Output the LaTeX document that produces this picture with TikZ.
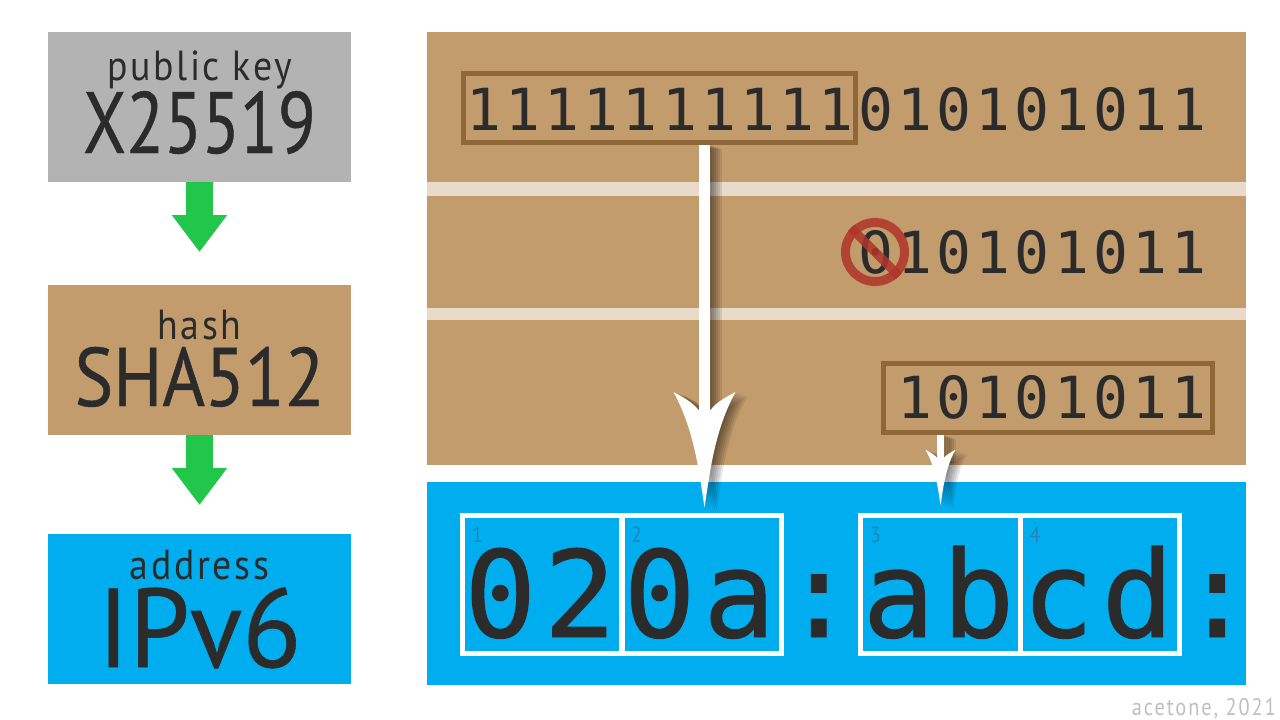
\documentclass[tikz,border=0pt]{standalone}
\usepackage{fontspec}
\usepackage{xcolor}
\usetikzlibrary{arrows.meta}
\newfontfamily\bitsfont[LetterSpace=7.4]{DejaVu Sans Mono}
\newfontfamily\addrfont[LetterSpace=6.2,FakeBold=0.8]{DejaVu Sans Mono}
\newfontfamily\smallfont[FakeStretch=0.9,LetterSpace=6.4]{PT Sans}
\newfontfamily\keyfont[FakeStretch=0.8,FakeBold=0.5]{PT Sans}
\newfontfamily\hashfont[FakeStretch=0.88,FakeBold=0.5]{PT Sans}
\newfontfamily\ipfont[FakeStretch=0.97,FakeBold=0.5]{PT Sans}
\newfontfamily\creditfont[FakeStretch=0.85,LetterSpace=8]{PT Sans}
\definecolor{inkgray}{HTML}{2B2B2B}
\definecolor{keygray}{HTML}{B3B3B3}
\definecolor{hashtan}{HTML}{C39C6D}
\definecolor{selbrown}{HTML}{8F6637}
\definecolor{stripetan}{HTML}{E9DACA}
\definecolor{ipblue}{HTML}{00AEEF}
\definecolor{cellnum}{HTML}{1F86BC}
\definecolor{flowgreen}{HTML}{22C64B}
\definecolor{banred}{HTML}{B0342A}
\tikzset{
    panel/.style={minimum width=303pt,minimum height=150pt,inner sep=0pt,outer sep=0pt},
    band/.style={fill=#1,inner sep=0pt,outer sep=0pt,minimum width=819pt},
    smalltitle/.style={anchor=base,inner sep=0pt,text=inkgray,font={\smallfont\fontsize{42}{42}\selectfont}},
    bigtitle/.style={anchor=base,inner sep=0pt,text=inkgray},
    bits/.style={anchor=base east,inner sep=0pt,text=inkgray,font={\bitsfont\fontsize{58}{58}\selectfont}},
    selbox/.style={draw=selbrown,line width=5pt,inner sep=0pt,outer sep=2.5pt},
    cell/.style={draw=white,line width=5pt,minimum width=159.5pt,minimum height=138pt,inner sep=0pt},
    cellno/.style={anchor=north west,inner sep=0pt,text=cellnum,font={\smallfont\fontsize{22}{22}\selectfont}},
    flow/.style={draw=flowgreen,line width=27pt,-{Triangle[length=37pt,width=53pt,fill=flowgreen]}}
}
% barbed head, tip at the origin
\newcommand{\barbhead}{
    (0,0) .. controls (5,-30) and (9,-75) .. (31,-115)
    .. controls (22,-110) and (12,-105) .. (6,-97)
    -- (-6,-97) .. controls (-12,-105) and (-22,-110) .. (-31,-115)
    .. controls (-9,-75) and (-5,-30) .. (0,0) -- cycle
}
% start, tip, scale of head, width of shaft
\newcommand{\bitarrow}[4]{
    \foreach \d in {2,4,...,12} {
        \draw[black,opacity=.09,line width=#4,shorten >=#3*95pt] ([shift={(\d,\d/3)}]#1) -- ([shift={(\d,\d/3)}]#2);
        \fill[black,opacity=.09,shift={(#2)},shift={(\d,\d/3)},scale=#3] \barbhead;
    }
    \draw[white,line width=#4,shorten >=#3*95pt] (#1) -- (#2);
    \fill[white,shift={(#2)},scale=#3] \barbhead;
}
\begin{document}
\begin{tikzpicture}[x=1pt,y=-1pt]
    \useasboundingbox (0,0) rectangle (1280,720);
    % left column
    \node[panel,fill=keygray] (keybox) at (199.5,107) {};
    \node[panel,fill=hashtan] (hashbox) at (199.5,360) {};
    \node[panel,fill=ipblue] (ipbox) at (199.5,609) {};
    \node[smalltitle] (keylabel) at (199.5,80) {public key};
    \node[bigtitle,font={\keyfont\fontsize{87}{87}\selectfont}] (keyname) at (199.5,153) {X25519};
    \node[smalltitle] (hashlabel) at (199.5,339) {hash};
    \node[bigtitle,font={\hashfont\fontsize{83}{83}\selectfont}] (hashname) at (199.5,406) {SHA512};
    \node[smalltitle] (iplabel) at (199.5,579) {address};
    \node[bigtitle,font={\ipfont\fontsize{112}{112}\selectfont}] (ipname) at (199.5,667) {IPv6};
    \draw[flow,shorten >=33pt] (keybox.south) -- (hashbox.north);
    \draw[flow,shorten >=29pt] (hashbox.south) -- (ipbox.north);
    % right column
    \node[band=hashtan,minimum height=433pt] (bitpanel) at (836.5,248.5) {};
    \node[band=stripetan,minimum height=14pt] (stripea) at (836.5,189) {};
    \node[band=stripetan,minimum height=12pt] (stripeb) at (836.5,314) {};
    \node[band=ipblue,minimum height=203pt] (addrpanel) at (836.5,583.5) {};
    % rows of bits
    \node[bits] (rowa) at (1207,130) {1111111111010101011};
    \node[bits] (rowb) at (1207,273) {010101011};
    \node[bits] (rowc) at (1207,418) {10101011};
    \node[selbox,minimum width=392pt,minimum height=69pt] (sela) at (659,107.5) {};
    \node[selbox,minimum width=329pt,minimum height=69pt] (selc) at (1048,397.5) {};
    % crossed out zero
    \node[circle,draw=banred,line width=9pt,opacity=.85,minimum size=59pt,inner sep=0pt] (ban) at (875,252) {};
    \draw[banred,line width=9pt,opacity=.85] (ban.north west) -- (ban.south east);
    % address and its cells
    \node[anchor=base west,inner sep=0pt,text=inkgray,font={\addrfont\fontsize{120}{120}\selectfont}] (addr) at (464,637) {020a:abcd:};
    \foreach \n/\cx in {1/542.25,2/701.25,3/940.25,4/1099.75} {
        \node[cell] (cell\n) at (\cx,584.5) {};
        \node[cellno] (no\n) at ([xshift=12pt,yshift=-14pt]cell\n.north west) {\n};
    }
    % arrows to the cells
    \coordinate (tipa) at (704.5,507);
    \coordinate (tipb) at (940.5,505);
    \bitarrow{sela.south -| tipa}{tipa}{1}{11pt}
    \bitarrow{selc.south -| tipb}{tipb}{.48}{7pt}
    \node[anchor=base east,inner sep=0pt,text=black!25,font={\creditfont\fontsize{24}{24}\selectfont}] (credit) at (1276,715) {acetone, 2021};
\end{tikzpicture}
\end{document}
